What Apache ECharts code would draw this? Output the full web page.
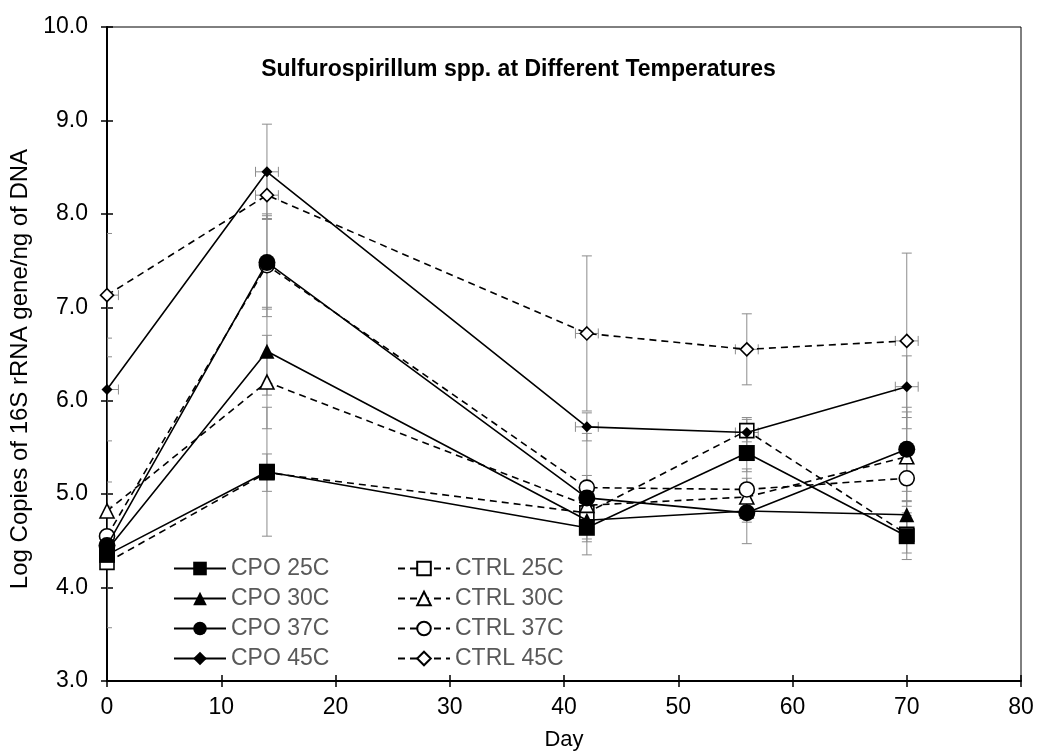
<!DOCTYPE html>
<html><head><meta charset="utf-8">
<script src="https://cdn.jsdelivr.net/npm/echarts@6/dist/echarts.min.js"></script>
<style>html,body{margin:0;padding:0;background:#fff}#c{width:1037px;height:752px}</style>
</head><body><div id="c"></div>
<script>
// ---- data ----
const days = [0, 14, 42, 56, 70];
const xTicks = [0, 10, 20, 30, 40, 50, 60, 70, 80];
const yTicks = [3, 4, 5, 6, 7, 8, 9, 10];

const cpo25  = [4.35, 5.24, 4.64, 5.44, 4.55];
const cpo30  = [4.40, 6.53, 4.72, 4.82, 4.78];
const cpo37  = [4.45, 7.48, 4.96, 4.80, 5.48];
const cpo45  = [6.12, 8.45, 5.72, 5.66, 6.15];
const ctrl25 = [4.27, 5.23, 4.80, 5.68, 4.57];
const ctrl30 = [4.82, 6.20, 4.88, 4.97, 5.40];
const ctrl37 = [4.55, 7.45, 5.07, 5.05, 5.17];
const ctrl45 = [7.13, 8.20, 6.72, 6.55, 6.64];

// vertical (+/-) error on each point
const cpo25Err  = [0.78, 0.69, 0.29, 0.20, 0.25];
const cpo30Err  = [0.05, 0.47, 0.20, 0.35, 0.15];
const cpo37Err  = [0.05, 0.50, 0.24, 0.10, 0.45];
const cpo45Err  = [0.55, 0.51, 0.15, 0.16, 0.33];
const ctrl25Err = [0.05, 0.20, 0.15, 0.12, 0.20];
const ctrl30Err = [0.05, 0.50, 0.20, 0.10, 0.48];
const ctrl37Err = [0.05, 0.55, 0.58, 0.22, 0.30];
const ctrl45Err = [0.66, 0.25, 0.83, 0.38, 0.94];
// horizontal (+/-) error in days
const cpo45XErr  = [1, 1, 1, 1, 1];
const ctrl45XErr = [1, 1, 1, 1, 1];
const noXErr     = [0, 0, 0, 0, 0];

const FONT = "'Liberation Sans', Arial, sans-serif";

const defs = [
  {name: 'CTRL 25C', v: ctrl25, e: ctrl25Err, xe: noXErr, sym: 'rect', size: 14, filled: false, dash: true},
  {name: 'CTRL 30C', v: ctrl30, e: ctrl30Err, xe: noXErr, sym: 'triangle', size: 14, filled: false, dash: true},
  {name: 'CTRL 37C', v: ctrl37, e: ctrl37Err, xe: noXErr, sym: 'circle', size: 15, filled: false, dash: true},
  {name: 'CTRL 45C', v: ctrl45, e: ctrl45Err, xe: ctrl45XErr, sym: 'diamond', size: 13, filled: false, dash: true},
  {name: 'CPO 25C', v: cpo25, e: cpo25Err, xe: noXErr, sym: 'rect', size: 16, filled: true, dash: false},
  {name: 'CPO 30C', v: cpo30, e: cpo30Err, xe: noXErr, sym: 'triangle', size: 15, filled: true, dash: false},
  {name: 'CPO 37C', v: cpo37, e: cpo37Err, xe: noXErr, sym: 'circle', size: 17, filled: true, dash: false},
  {name: 'CPO 45C', v: cpo45, e: cpo45Err, xe: cpo45XErr, sym: 'diamond', size: 11, filled: true, dash: false}
];

const errData = [];
defs.forEach(d => days.forEach((x, i) => errData.push([x, d.v[i], d.e[i], d.xe[i]])));

function renderErr(params, api) {
  const x = api.value(0), y = api.value(1), e = api.value(2), xe = api.value(3);
  const style = {stroke: '#8c8c8c', lineWidth: 1, fill: null};
  const cap = 5;
  const ch = [];
  if (e > 0) {
    const t = api.coord([x, y + e]), b = api.coord([x, y - e]);
    ch.push({type: 'line', shape: {x1: t[0], y1: t[1], x2: b[0], y2: b[1]}, style});
    ch.push({type: 'line', shape: {x1: t[0] - cap, y1: t[1], x2: t[0] + cap, y2: t[1]}, style});
    ch.push({type: 'line', shape: {x1: b[0] - cap, y1: b[1], x2: b[0] + cap, y2: b[1]}, style});
  }
  if (xe > 0) {
    const l = api.coord([x - xe, y]), r = api.coord([x + xe, y]);
    ch.push({type: 'line', shape: {x1: l[0], y1: l[1], x2: r[0], y2: r[1]}, style});
    ch.push({type: 'line', shape: {x1: l[0], y1: l[1] - cap, x2: l[0], y2: l[1] + cap}, style});
    ch.push({type: 'line', shape: {x1: r[0], y1: r[1] - cap, x2: r[0], y2: r[1] + cap}, style});
  }
  return {type: 'group', children: ch};
}

const series = [{
  type: 'custom', name: 'err', data: errData, renderItem: renderErr, clip: true, z: 1,
  silent: true, xAxisIndex: 0, yAxisIndex: 0
}];
defs.forEach(d => {
  series.push({
    type: 'line', name: d.name, data: days.map((x, i) => [x, d.v[i]]),
    symbol: d.sym, symbolSize: d.size, showSymbol: true,
    z: d.filled ? 4 : 3,
    lineStyle: {color: '#000', width: 1.6, type: d.dash ? [7, 5] : 'solid'},
    itemStyle: {color: d.filled ? '#000' : '#fff', borderColor: '#000', borderWidth: d.filled ? 0 : 1.6},
    emphasis: {disabled: true}, animation: false
  });
});

const legendText = {fontSize: 23, color: '#595959', fontFamily: FONT};
const option = {
  animation: false,
  backgroundColor: '#fff',
  title: {
    text: 'Sulfurospirillum spp. at Different Temperatures',
    left: 'center', top: 53,
    textStyle: {fontSize: 23, fontWeight: 'bold', color: '#000', fontFamily: FONT}
  },
  grid: {left: 107, right: 16, top: 27, bottom: 71, outerBoundsMode: 'none', containLabel: false,
         show: true, borderColor: '#000', borderWidth: 1, backgroundColor: 'transparent'},
  legend: [
    {data: ['CPO 25C', 'CPO 30C', 'CPO 37C', 'CPO 45C'], left: 168, top: 552, orient: 'vertical',
     itemWidth: 52, itemHeight: 17, itemGap: 7, textStyle: legendText, selectedMode: false},
    {data: ['CTRL 25C', 'CTRL 30C', 'CTRL 37C', 'CTRL 45C'], left: 392, top: 552, orient: 'vertical',
     itemWidth: 52, itemHeight: 17, itemGap: 7, textStyle: legendText, selectedMode: false}
  ],
  xAxis: [
    {type: 'value', min: xTicks[0], max: xTicks[xTicks.length - 1], interval: 10,
     name: 'Day', nameLocation: 'middle', nameGap: 48,
     nameTextStyle: {fontSize: 22, color: '#000', fontFamily: FONT},
     axisLine: {lineStyle: {color: '#000', width: 2}},
     axisTick: {show: true, inside: false, length: 6, lineStyle: {color: '#000', width: 1.5}},
     axisLabel: {fontSize: 23, color: '#000', fontFamily: FONT, margin: 15},
     splitLine: {show: false}},
    {type: 'value', min: xTicks[0], max: xTicks[xTicks.length - 1], interval: 10, position: 'bottom',
     axisLine: {show: false}, axisLabel: {show: false}, splitLine: {show: false},
     axisTick: {show: true, inside: true, length: 6, lineStyle: {color: '#000', width: 1.5}}}
  ],
  yAxis: [
    {type: 'value', min: yTicks[0], max: yTicks[yTicks.length - 1], interval: 1,
     name: 'Log Copies of 16S rRNA gene/ng of DNA', nameLocation: 'middle', nameGap: 73,
     nameTextStyle: {fontSize: 24, color: '#000', fontFamily: FONT, padding: [0, 30, 0, 0]},
     axisLine: {show: true, lineStyle: {color: '#000', width: 2}},
     axisTick: {show: true, inside: false, length: 6, lineStyle: {color: '#000', width: 1.5}},
     axisLabel: {fontSize: 23, color: '#000', fontFamily: FONT, margin: 19, formatter: v => v.toFixed(1)},
     splitLine: {show: false}},
    {type: 'value', min: yTicks[0], max: yTicks[yTicks.length - 1], interval: 1, position: 'left',
     axisLine: {show: false}, axisLabel: {show: false}, splitLine: {show: false},
     axisTick: {show: true, inside: true, length: 6, lineStyle: {color: '#000', width: 1.5}}}
  ],
  series: series
};
const chart = echarts.init(document.getElementById('c'), null, {renderer: 'canvas'});
chart.setOption(option);
</script>
</body></html>
